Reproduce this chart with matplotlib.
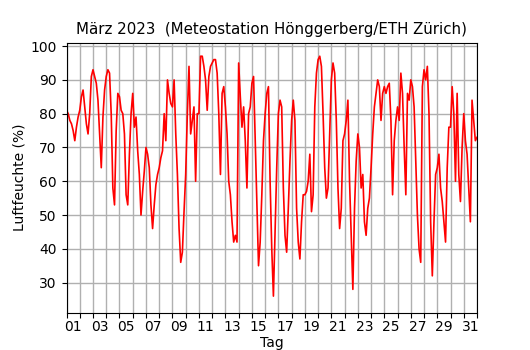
import numpy as np
import pandas as pd
import matplotlib
matplotlib.use("Agg")
import matplotlib.pyplot as plt
import matplotlib.dates as mdates
from matplotlib.ticker import FixedLocator, NullFormatter

feuchte = [
    81, 80, 78, 77, 75, 72, 76, 79,   # 01
    81, 85, 87, 82, 77, 74, 80, 91,   # 02
    93, 91, 89, 84, 74, 64, 79, 87,   # 03
    91, 93, 92, 80, 58, 53, 75, 86,   # 04
    85, 81, 80, 74, 56, 53, 68, 80,   # 05
    86, 76, 79, 69, 62, 50, 57, 63,   # 06
    70, 68, 64, 53, 46, 53, 59, 62,   # 07
    64, 67, 69, 80, 72, 90, 86, 83,   # 08
    82, 90, 74, 62, 46, 36, 39, 51,   # 09
    62, 80, 94, 74, 78, 82, 60, 80,   # 10
    80, 97, 97, 94, 90, 81, 91, 94,   # 11
    95, 96, 96, 92, 80, 62, 86, 88,   # 12
    82, 74, 60, 56, 48, 42, 44, 42,   # 13
    95, 85, 76, 82, 72, 58, 80, 82,   # 14
    89, 91, 72, 52, 35, 42, 56, 72,   # 15
    80, 86, 88, 60, 40, 26, 45, 64,   # 16
    80, 84, 82, 58, 44, 39, 52, 66,   # 17
    78, 84, 78, 52, 42, 37, 48, 56,   # 18
    56, 57, 60, 68, 51, 56, 82, 92,   # 19
    96, 97, 94, 80, 64, 55, 58, 74,   # 20
    90, 95, 92, 78, 58, 46, 52, 72,   # 21
    74, 78, 84, 60, 44, 28, 52, 66,   # 22
    74, 70, 58, 62, 48, 44, 52, 55,   # 23
    64, 74, 82, 86, 90, 88, 78, 86,   # 24
    88, 86, 88, 89, 78, 56, 72, 78,   # 25
    82, 78, 92, 86, 70, 56, 86, 84,   # 26
    90, 88, 82, 66, 50, 40, 36, 88,   # 27
    93, 90, 94, 80, 48, 32, 48, 62,   # 28
    64, 68, 58, 54, 48, 42, 64, 76,   # 29
    76, 88, 80, 60, 86, 62, 54, 70,   # 30
    80, 72, 68, 58, 48, 84, 78, 72,   # 31
    73,                               # 01.04. 00 Uhr
]
zeit = pd.date_range("2023-03-01", periods=len(feuchte), freq="3h")
y_ticks = [30, 40, 50, 60, 70, 80, 90, 100]

fig = plt.figure(figsize=(5.3, 3.5), dpi=100)
ax = fig.add_axes([0.1255, 0.1066, 0.7745, 0.7714])
ax.plot(zeit, feuchte, "-", color="red", lw=1.2)

# Tagesgrenzen als Hauptticks (Gitter), Beschriftung der ungeraden Tage mittags
start = pd.Timestamp("2023-03-01")
ende = pd.Timestamp("2023-04-01")
ax.set_xlim(start, ende)
ax.xaxis.set_major_locator(mdates.DayLocator())
ax.xaxis.set_major_formatter(NullFormatter())
mittag = [mdates.date2num(start + pd.Timedelta(days=d, hours=12)) for d in range(0, 31, 2)]
ax.xaxis.set_minor_locator(FixedLocator(mittag))
ax.xaxis.set_minor_formatter(mdates.DateFormatter("%d"))
ax.tick_params(axis="x", which="minor", length=0, pad=5.5)

ax.set_ylim(21.1, 101.0)
ax.set_yticks(y_ticks)
ax.grid(True, which="major", color="#b0b0b0", lw=1.0)

ax.set_title("März 2023  (Meteostation Hönggerberg/ETH Zürich)", fontsize=10.8)
ax.set_xlabel("Tag", labelpad=1)
ax.set_ylabel("Luftfeuchte (%)", labelpad=3)

plt.savefig("out.png", dpi=100)
